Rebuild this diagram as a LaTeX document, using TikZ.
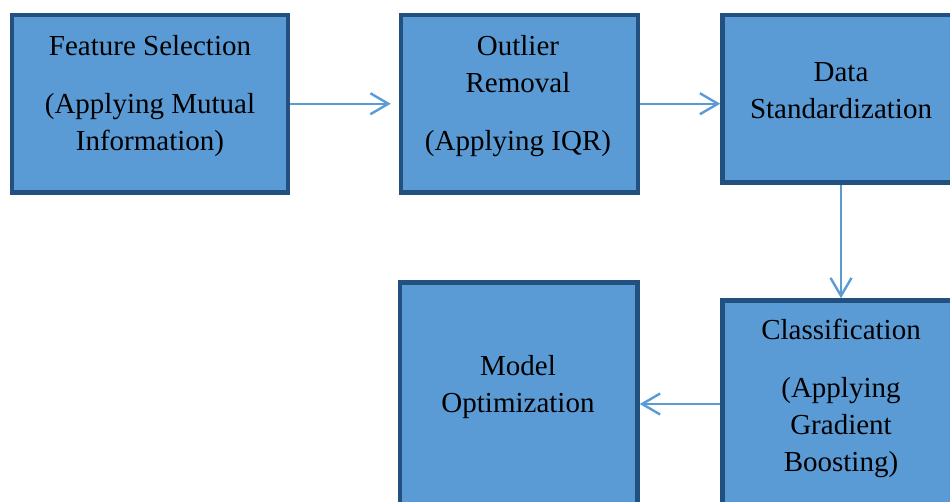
\documentclass[tikz,border=0pt]{standalone}
\usepackage{fontspec}
\setmainfont{Liberation Serif}
\usetikzlibrary{arrows.meta}
\definecolor{stagefill}{HTML}{5B9BD5}
\definecolor{stageline}{HTML}{22507F}

\begin{document}
\begin{tikzpicture}[
    x=1pt, y=-1pt,
    stagebox/.style={rectangle, draw=stageline, line width=4.5pt, fill=stagefill, inner sep=0pt},
    stagetext/.style={align=center, font=\fontsize{29}{37}\selectfont},
    flow/.style={draw=stagefill, line width=2.4pt, -{Straight Barb[length=18pt, width=21pt]}}
]
\clip (0,0) rectangle (950,502);

% Top row
\node[stagebox, minimum width=276pt, minimum height=177.5pt] (featbox) at (150,103.75) {};
\node[stagebox, minimum width=237pt, minimum height=177.5pt] (outlierbox) at (519.5,103.75) {};
\node[stagebox, minimum width=237pt, minimum height=167.5pt] (stdbox) at (841,98.75) {};

% Bottom row
\node[stagebox, minimum width=237pt, minimum height=207pt] (classbox) at (841,404) {};
\node[stagebox, minimum width=237.5pt, minimum height=243pt] (modelbox) at (518.75,404) {};

% Texts
\node[stagetext] (feattext) at (150,96) {Feature Selection\\[21pt](Applying Mutual\\Information)};
\node[stagetext] (outliertext) at (518,96.5) {Outlier\\Removal\\[21pt](Applying IQR)};
\node[stagetext] (stdtext) at (841,91) {Data\\Standardization};
\node[stagetext] (classtext) at (841,398.5) {Classification\\[21pt](Applying\\Gradient\\Boosting)};
\node[stagetext] (modeltext) at (518,387.5) {Model\\Optimization};

% Arrows
\draw[flow, shorten >=8pt] (featbox) -- (outlierbox);
\draw[flow] (outlierbox) -- (stdbox.west |- outlierbox);
\draw[flow] (stdbox) -- (classbox);
\draw[flow] (classbox) -- (modelbox);

\end{tikzpicture}
\end{document}
